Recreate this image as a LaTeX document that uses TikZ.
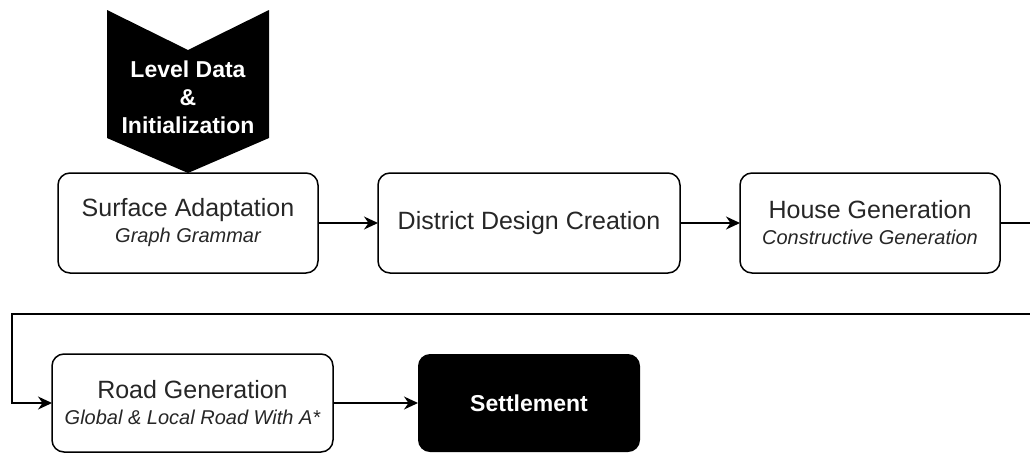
\documentclass[tikz,border=0pt]{standalone}
\usepackage{fontspec}
\setmainfont{Liberation Sans}
\usetikzlibrary{arrows.meta}
\usetikzlibrary{positioning}

\newcommand{\stagenote}[1]{{\fontsize{20}{26}\selectfont\itshape #1}}

\begin{document}
\begin{tikzpicture}[-,>={Stealth[length=14pt,width=13pt,inset=4.5pt]},x=1pt,y=-1pt,line width=1.5pt,node distance=60pt,
  stage/.style={draw=black,rounded corners=12pt,minimum height=100pt,align=center,text=black!85,font=\fontsize{25}{26}\selectfont,inner sep=0pt,outer sep=0pt},
  final/.style={fill=black,rounded corners=12pt,minimum height=98pt,align=center,text=white,font=\bfseries\fontsize{23}{28}\selectfont,inner sep=0pt,outer sep=0pt}]
\useasboundingbox (0,0) rectangle (1030,453);

\fill (107,10) -- (188,50) -- (269,10) -- (269,138) -- (188,173) -- (107,138) -- cycle;
\node[text=white,align=center,font=\bfseries\fontsize{23}{28}\selectfont] (lvl) at (188,97) {Level Data\\\&\\Initialization};

\node[stage,minimum width=260pt] (surf) at (188,223) {Surface Adaptation\\\stagenote{Graph Grammar}};
\node[stage,minimum width=302pt] (dist) [right=of surf] {District Design Creation};
\node[stage,minimum width=260pt] (house) [right=of dist] {House Generation\\\stagenote{Constructive Generation}};

\node[stage,minimum width=281pt,minimum height=98pt] (road) at (192.5,403) {Road Generation\\\stagenote{Global \& Local Road With A*}};
\node[final,minimum width=222pt] (settle) [right=85pt of road] {Settlement};

\coordinate (turn) at (1050,314);
\coordinate (back) at (12,314);

\draw[->] (surf) -- (dist);
\draw[->] (dist) -- (house);
\begin{scope}
\clip (0,0) rectangle (1030,453);
\draw[->] (house.east) -| (turn) -- (back) |- (road.west);
\end{scope}
\draw[->] (road) -- (settle);
\end{tikzpicture}
\end{document}
